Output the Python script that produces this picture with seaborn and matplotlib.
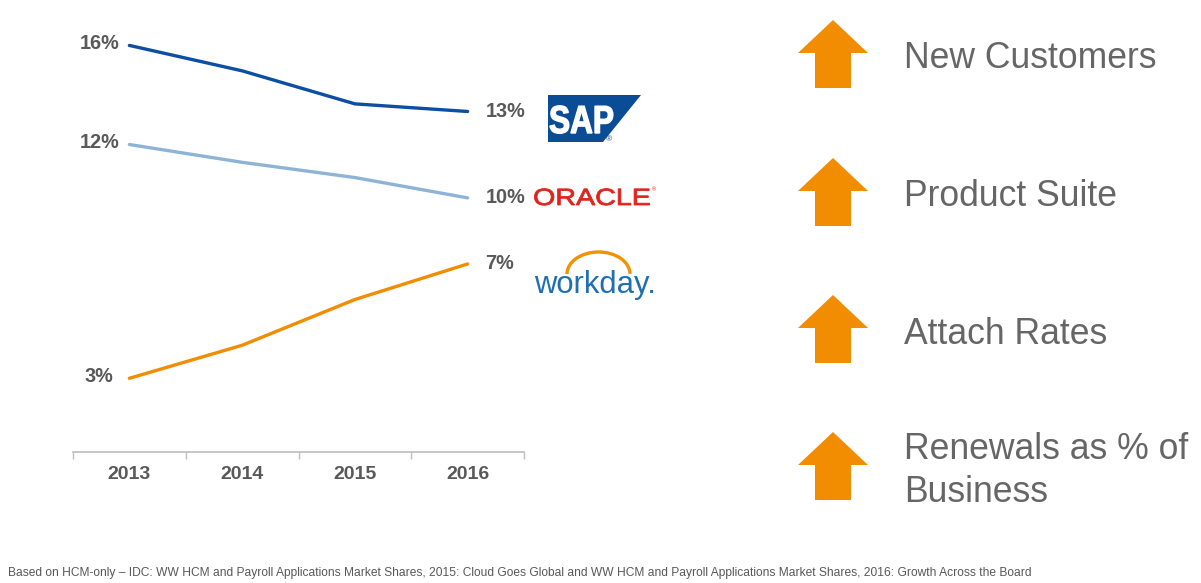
import numpy as np
import pandas as pd
import matplotlib.pyplot as plt
import seaborn as sns
from matplotlib.patches import Polygon, Arc, PathPatch
from matplotlib.textpath import TextPath
from matplotlib.font_manager import FontProperties
from matplotlib.transforms import Affine2D

sns.set_theme(style="white")
plt.rcParams['font.family'] = ['Liberation Sans', 'DejaVu Sans']

# market share data (HCM)
years = [2013, 2014, 2015, 2016]
sap = [16.0, 15.0, 13.7, 13.4]
oracle = [12.1, 11.4, 10.8, 10.0]
workday = [2.9, 4.2, 6.0, 7.4]
vendors = ["SAP", "Oracle", "Workday"]
colors = {"SAP": "#0B4EA2", "Oracle": "#8DB4D6", "Workday": "#F28C00"}

drivers = ["New Customers", "Product Suite", "Attach Rates", "Renewals as % of\nBusiness"]
footnote = ("Based on HCM-only \u2013 IDC: WW HCM and Payroll Applications Market Shares, 2015: "
            "Cloud Goes Global and WW HCM and Payroll Applications Market Shares, 2016: Growth Across the Board")

df = pd.DataFrame({
    "year": years * 3,
    "share": sap + oracle + workday,
    "vendor": [v for v in vendors for _ in years],
})

W, H = 1201, 583
fig = plt.figure(figsize=(W / 100, H / 100), dpi=100)
ax = fig.add_axes([73 / W, 131 / H, 451 / W, 432 / H])

sns.lineplot(data=df, x="year", y="share", hue="vendor", palette=colors,
             linewidth=2.4, legend=False, ax=ax)

ax.set_xlim(2012.5, 2016.5)
ax.set_ylim(0, 17)
ax.set_xticks(years)
ax.set_xticklabels([str(y) for y in years], fontsize=14, fontweight="bold", color="#595959")
ax.set_xticks([y - 0.5 for y in years] + [2016.5], minor=True)
ax.tick_params(axis="x", which="major", length=0, pad=10)
ax.tick_params(axis="x", which="minor", length=5, width=1, color="#BFBFBF", direction="out", bottom=True)
ax.set_yticks([])
ax.set_xlabel("")
ax.set_ylabel("")
for s in ["left", "right", "top"]:
    ax.spines[s].set_visible(False)
ax.spines["bottom"].set_color("#BFBFBF")
ax.patch.set_alpha(0)

# start / end value labels
for v in vendors:
    sub = df[df.vendor == v]
    first, last = sub.iloc[0], sub.iloc[-1]
    ax.annotate(f"{first.share:.0f}%", (first.year, first.share), xytext=(-30, 2),
                textcoords="offset pixels", ha="center", va="center",
                fontsize=14.3, fontweight="bold", color="#595959")
    ax.annotate(f"{last.share:.0f}%", (last.year, last.share), xytext=(18, 0),
                textcoords="offset pixels", ha="left", va="center",
                fontsize=14.3, fontweight="bold", color="#595959")

# overlay in pixel coordinates for logos, arrows and text
ov = fig.add_axes([0, 0, 1, 1])
ov.set_xlim(0, W)
ov.set_ylim(H, 0)
ov.axis("off")


def stretched_text(s, x, y, size, sx, color, weight="normal", edge=0.0):
    tp = TextPath((0, 0), s, size=size,
                  prop=FontProperties(family="Liberation Sans", weight=weight))
    tr = Affine2D().scale(sx, -1).translate(x, y)
    ov.add_patch(PathPatch(tr.transform_path(tp), facecolor=color, edgecolor=color, lw=edge))


# SAP logo
ov.add_patch(Polygon([(548, 95), (641, 95), (603, 142), (548, 142)], closed=True,
                     color="#0A4C96", lw=0))
stretched_text("SAP", 549, 133, 39, 0.81, "white", weight="bold", edge=1.0)
ov.text(609, 140, "\u00ae", color="#0A4C96", fontsize=6, ha="center", va="center")

# Oracle logo (stretched text)
stretched_text("ORACLE", 533, 205, 23.5, 1.22, "#E0231B", edge=0.6)
ov.text(654, 190, "\u00ae", color="#E0231B", fontsize=4, ha="center", va="center")

# Workday logo
ov.add_patch(Arc((598.5, 274), 63, 44, theta1=180, theta2=360, color="#F39200", lw=2.4))
ov.text(534, 293, "workday.", color="#1F6FB2", fontsize=22.3, ha="left", va="baseline")

# arrows and driver text
centers = [54, 192, 329, 466]
for cy, label in zip(centers, drivers):
    cx = 833
    top, base, bot = cy - 34, cy - 1, cy + 34
    pts = [(cx, top), (cx + 35, base), (cx + 18, base), (cx + 18, bot),
           (cx - 18, bot), (cx - 18, base), (cx - 35, base)]
    ov.add_patch(Polygon(pts, closed=True, color="#F28C00", lw=0))
    ov.text(904, cy + 5, label, fontsize=25.6, color="#666666", ha="left", va="center",
            linespacing=1.33)

fig.text(8 / W, 1 - 573 / H, footnote, fontsize=8.65, color="#595959", ha="left", va="center")

fig.savefig("out.png", dpi=100)
